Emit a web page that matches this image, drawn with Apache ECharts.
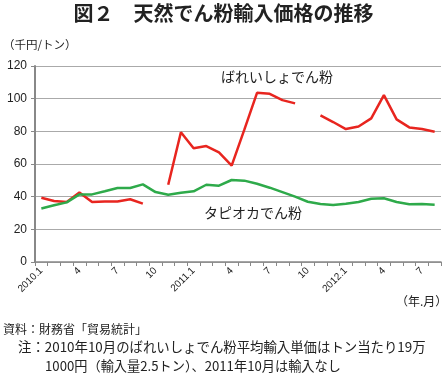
<!DOCTYPE html>
<html><head><meta charset="utf-8">
<script src="https://cdn.jsdelivr.net/npm/echarts@6/dist/echarts.min.js"></script>
<style>html,body{margin:0;padding:0;background:#fff}#c{width:447px;height:381px}</style>
</head><body><div id="c"></div>
<script>
const months = ['2010.1','2','3','4','5','6','7','8','9','10','11','12',
  '2011.1','2','3','4','5','6','7','8','9','10','11','12',
  '2012.1','2','3','4','5','6','7','8'];
const tickLabelIdx = [0,3,6,9,12,15,18,21,24,27,30];
const tickLabelText = ['2010.1','4','7','10','2011.1','4','7','10','2012.1','4','7'];
const potato = [39.3,37.3,36.7,42.6,36.7,37,37,38.4,35.7,null,47.3,79.4,
  69.6,71,67.1,59,81,103.6,103,99.1,97.1,null,89.8,85.7,
  81.4,83,87.9,102.2,87.3,82.4,81.4,79.8];
const tapioca = [32.8,34.7,36.5,41.4,41.4,43.3,45.3,45.3,47.5,42.8,41.2,42.4,
  43.3,47.3,46.7,50.2,49.8,47.9,45.5,42.8,40,36.9,35.5,34.9,
  35.7,36.7,38.7,39,36.7,35.3,35.5,35.1];
const yTicks = [0,20,40,60,80,100,120];
const font = '"Noto Sans CJK JP", "Noto Sans", sans-serif';

const chart = echarts.init(document.getElementById('c'));
chart.setOption({
  animation:false,
  grid:{left:35,right:6,top:66,bottom:119},
  xAxis:{type:'category',data:months,boundaryGap:true,
    axisLine:{lineStyle:{color:'#888',width:1.5}},
    axisTick:{show:true,interval:0,length:4,lineStyle:{color:'#888'}},
    axisLabel:{interval:0,rotate:45,fontSize:10,color:'#222',fontFamily:'"Liberation Sans", sans-serif',margin:7,
      formatter:(v,i)=>{const k=tickLabelIdx.indexOf(i);return k>=0?tickLabelText[k]:'';}},
    splitLine:{show:false}},
  yAxis:{type:'value',min:yTicks[0],max:yTicks[yTicks.length-1],interval:20,
    axisLine:{show:true,lineStyle:{color:'#888',width:2}},
    axisTick:{show:true,length:4,lineStyle:{color:'#888'}},
    axisLabel:{fontSize:12,color:'#222',fontFamily:'"Liberation Sans", sans-serif',margin:8},
    splitLine:{lineStyle:{color:'#aaa',width:1}}},
  series:[
    {name:'ばれいしょでん粉',type:'line',data:potato,symbol:'none',connectNulls:false,
      lineStyle:{color:'#e8251f',width:2.5},itemStyle:{color:'#e8251f'}},
    {name:'タピオカでん粉',type:'line',data:tapioca,symbol:'none',
      lineStyle:{color:'#2eaa4a',width:2.5},itemStyle:{color:'#2eaa4a'}}
  ],
  graphic:[
    {type:'text',left:'center',top:3,style:{text:'図２　天然でん粉輸入価格の推移',font:'bold 20px '+font,fill:'#222'}},
    {type:'text',left:3,top:39,style:{text:'（千円/トン）',font:'11.5px '+font,fill:'#222'}},
    {type:'text',left:221,top:70,style:{text:'ばれいしょでん粉',font:'14px '+font,fill:'#222'}},
    {type:'text',left:204,top:206,style:{text:'タピオカでん粉',font:'14px '+font,fill:'#222'}},
    {type:'text',left:396,top:295,style:{text:'（年.月）',font:'12px '+font,fill:'#222'}},
    {type:'text',left:3,top:323,style:{text:'資料：財務省「貿易統計」',font:'12px '+font,fill:'#222'}},
    {type:'text',left:18,top:340,style:{text:'注：2010年10月のばれいしょでん粉平均輸入単価はトン当たり19万',font:'13.4px '+font,fill:'#222'}},
    {type:'text',left:45,top:359,style:{text:'1000円（輸入量2.5トン）、2011年10月は輸入なし',font:'13.2px '+font,fill:'#222'}}
  ]
});
</script></body></html>
